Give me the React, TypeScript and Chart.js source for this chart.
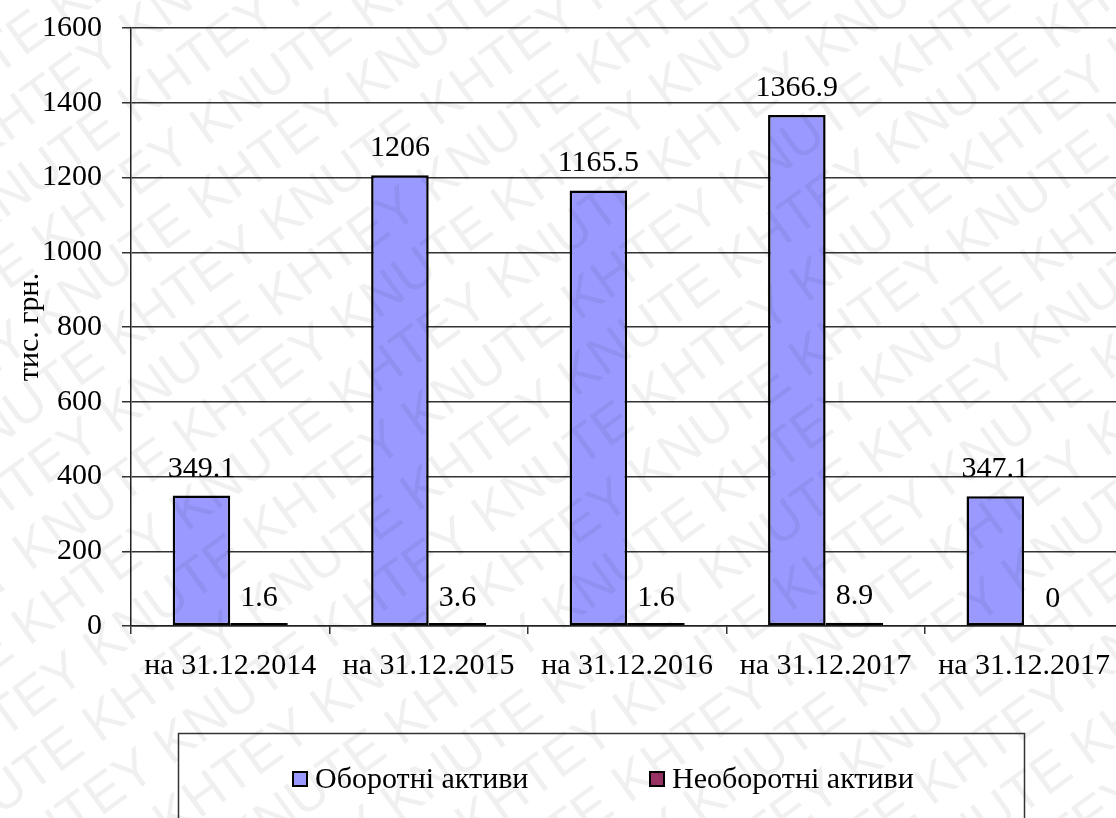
import React, { useEffect, useRef } from "react";
import { Chart, registerables } from "chart.js";

Chart.register(...registerables);

const categories = ["на 31.12.2014", "на 31.12.2015", "на 31.12.2016", "на 31.12.2017", "на 31.12.2017"];
const currentAssets = [349.1, 1206, 1165.5, 1366.9, 347.1];
const nonCurrentAssets = [1.6, 3.6, 1.6, 8.9, 0];
const seriesNames = ["Оборотні активи", "Необоротні активи"];
const seriesColors = ["#9999FF", "#993366"];
const yMin = 0;
const yMax = 1600;
const yStep = 200;
const axisTitle = "тис. грн.";
const watermarkText = "KHTEY KNUTE";

const SERIF = "'Liberation Serif', 'Times New Roman', serif";
const SANS = "'Liberation Sans', Arial, sans-serif";
const FS = 30;
const W = 1124;
const H = 818;

const valueLabels = {
  id: "valueLabels",
  afterDatasetsDraw(chart: any) {
    const ctx = chart.ctx;
    ctx.save();
    ctx.font = `${FS}px ${SERIF}`;
    ctx.fillStyle = "#000";
    ctx.textAlign = "center";
    ctx.textBaseline = "alphabetic";
    chart.data.datasets.forEach((ds: any, i: number) => {
      const meta = chart.getDatasetMeta(i);
      const base = chart.scales.y.getPixelForValue(0);
      meta.data.forEach((bar: any, j: number) => {
        const v = ds.data[j];
        const top = chart.scales.y.getPixelForValue(v);
        ctx.fillText(String(v), bar.x, Math.min(top, base) - 19);
      });
    });
    ctx.restore();
  },
};

const boxLegend = {
  id: "boxLegend",
  afterDraw(chart: any) {
    const ctx = chart.ctx;
    ctx.save();
    ctx.strokeStyle = "#333";
    ctx.lineWidth = 1.5;
    ctx.strokeRect(178.5, 733.5, 846, 200);
    const starts = [293, 650];
    ctx.font = `${FS}px ${SERIF}`;
    ctx.textBaseline = "middle";
    ctx.textAlign = "left";
    chart.data.datasets.forEach((ds: any, i: number) => {
      const x = starts[i];
      ctx.fillStyle = ds.legendColor;
      ctx.fillRect(x, 772, 14, 14);
      ctx.strokeStyle = "#000";
      ctx.lineWidth = 2;
      ctx.strokeRect(x, 772, 14, 14);
      ctx.fillStyle = "#000";
      ctx.fillText(ds.label, x + 22, 780);
    });
    ctx.restore();
  },
};

const watermark = {
  id: "watermark",
  afterDraw(chart: any) {
    const ctx = chart.ctx;
    ctx.save();
    ctx.fillStyle = "rgba(0,0,0,0.06)";
    ctx.font = `54px ${SANS}`;
    ctx.textBaseline = "alphabetic";
    ctx.rotate((-36 * Math.PI) / 180);
    const line = Array(12).fill(watermarkText).join(" ");
    for (let k = -20; k < 40; k++) {
      const y = k * 60;
      const shift = (Math.abs(k) % 2) * 150;
      ctx.fillText(line, -900 + shift, y);
    }
    ctx.restore();
  },
};

const hideZero = (c: any, color: string) => (c.raw === 0 ? "rgba(0,0,0,0)" : color);

export default function App() {
  const ref = useRef<HTMLCanvasElement>(null);
  useEffect(() => {
    document.body.style.overflow = "hidden";
    const chart = new Chart(ref.current as HTMLCanvasElement, {
      type: "bar",
      data: {
        labels: categories,
        datasets: [
          {
            label: seriesNames[0],
            data: currentAssets,
            legendColor: seriesColors[0],
            backgroundColor: seriesColors[0],
            borderColor: "#000",
            borderWidth: 2.5,
            borderSkipped: false,
            categoryPercentage: 0.58,
            barPercentage: 1,
          } as any,
          {
            label: seriesNames[1],
            data: nonCurrentAssets,
            legendColor: seriesColors[1],
            backgroundColor: (c: any) => hideZero(c, seriesColors[1]),
            borderColor: (c: any) => hideZero(c, "#000"),
            borderWidth: 2.5,
            borderSkipped: false,
            minBarLength: 3,
            categoryPercentage: 0.58,
            barPercentage: 1,
          } as any,
        ],
      },
      options: {
        responsive: false,
        animation: false,
        devicePixelRatio: 1,
        layout: { padding: { top: 28, left: 0, right: 0, bottom: 0 } },
        plugins: {
          legend: { display: false },
          tooltip: { enabled: false },
        },
        scales: {
          x: {
            offset: true,
            grid: {
              offset: true,
              drawOnChartArea: false,
              drawTicks: true,
              tickLength: 8,
              color: "#333",
              lineWidth: 1.5,
            },
            border: { color: "#222", width: 1.5 },
            ticks: {
              font: { family: SERIF, size: FS },
              color: "#000",
              padding: 14,
              maxRotation: 0,
              autoSkip: false,
            },
            afterFit: (s: any) => {
              s.height = 192;
            },
          },
          y: {
            min: yMin,
            max: yMax,
            ticks: {
              stepSize: yStep,
              font: { family: SERIF, size: FS },
              color: "#000",
              padding: 20,
              callback: (v: any) => String(v),
            },
            grid: { color: "#333", lineWidth: 1.5, tickLength: 9 },
            border: { color: "#222", width: 1.5 },
            title: {
              display: true,
              text: axisTitle,
              font: { family: SERIF, size: FS },
              color: "#000",
              padding: { top: 12, bottom: 0 },
            },
            afterFit: (s: any) => {
              s.width = 131;
              s.paddingTop = 0;
              s.paddingBottom = 0;
            },
          },
        },
      },
      plugins: [valueLabels, boxLegend, watermark],
    });
    return () => chart.destroy();
  }, []);
  return (
    <div style={{ position: "fixed", left: 0, top: 0, width: W, height: H, overflow: "hidden", background: "#fff" }}>
      <canvas ref={ref} width={W} height={H} style={{ width: W, height: H, display: "block" }} />
    </div>
  );
}
